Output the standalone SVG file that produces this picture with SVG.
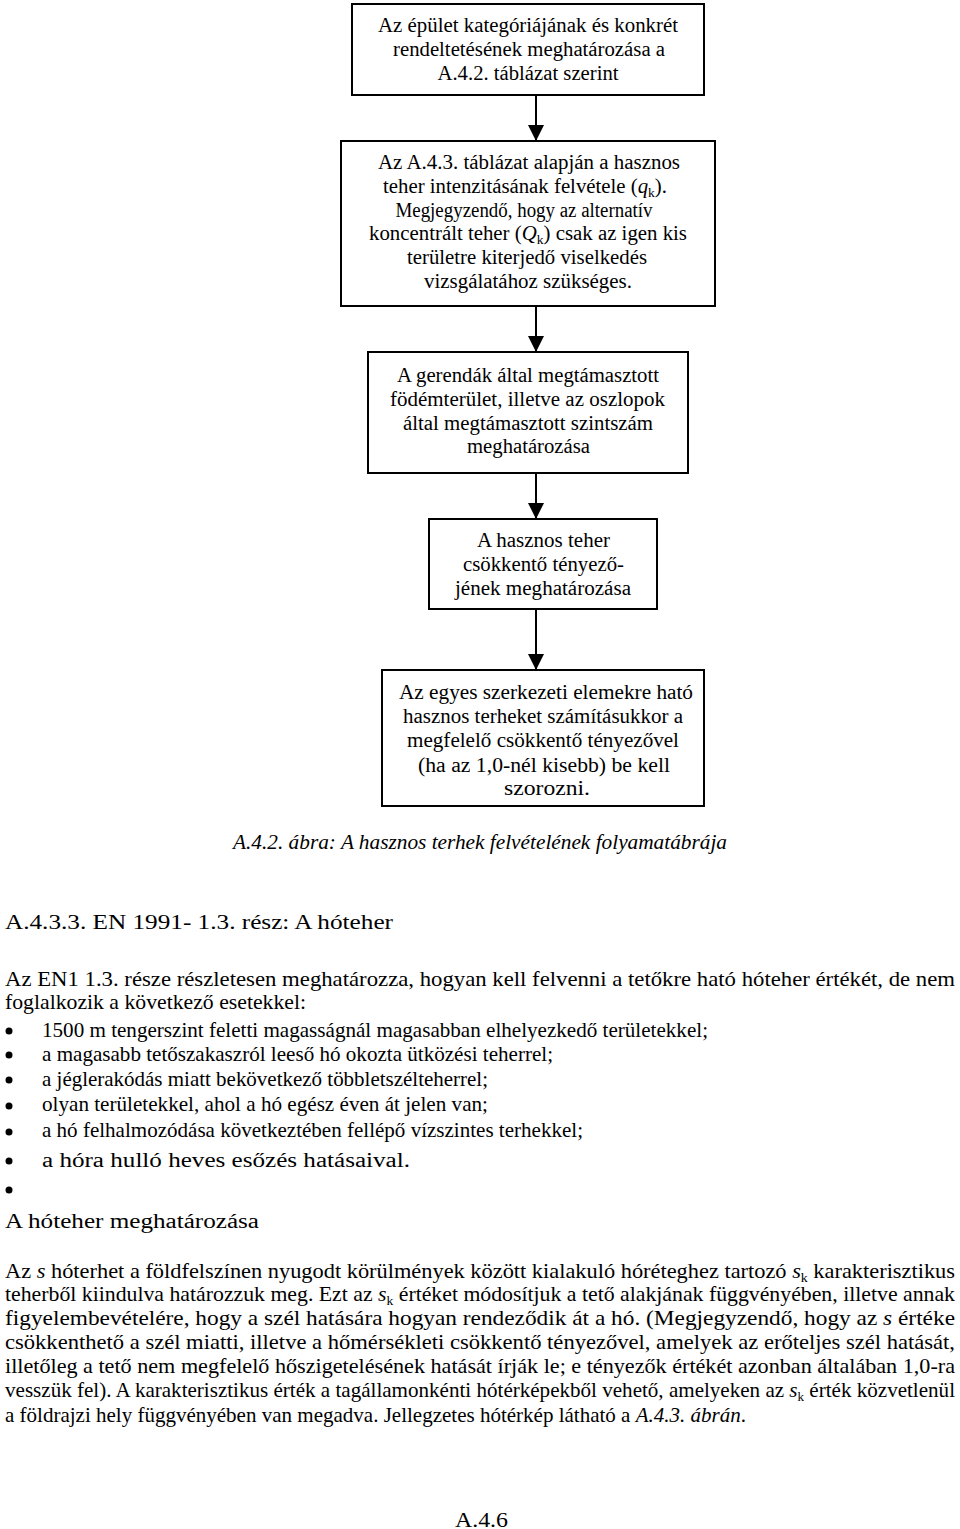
<svg xmlns="http://www.w3.org/2000/svg" width="960" height="1529" viewBox="0 0 960 1529">
<style>
.bx{fill:#fff;stroke:#000;stroke-width:2}
.t{font-family:"Liberation Serif","Times New Roman",serif;font-size:20px;fill:#000}
.p{font-size:21px}
.c{text-anchor:middle}
.i{font-style:italic}
.cn{stroke:#000;stroke-width:2;fill:none}
.b{fill:#000}
</style>
<defs>
<marker id="ah" markerUnits="userSpaceOnUse" markerWidth="16" markerHeight="16" refX="16" refY="8" orient="auto">
<path d="M0,0 L16,8 L0,16 z" fill="#000"/>
</marker>
</defs>
<rect width="960" height="1529" fill="#fff"/>

<g id="connectors">
<line class="cn" x1="536" y1="95" x2="536" y2="141" marker-end="url(#ah)"/>
<line class="cn" x1="536" y1="306" x2="536" y2="352" marker-end="url(#ah)"/>
<line class="cn" x1="536" y1="473" x2="536" y2="519" marker-end="url(#ah)"/>
<line class="cn" x1="536" y1="609" x2="536" y2="670" marker-end="url(#ah)"/>
</g>

<g id="n1">
<rect class="bx" x="352" y="4" width="352" height="91"/>
<text class="t c" x="528" y="32" textLength="300" lengthAdjust="spacingAndGlyphs">Az épület kategóriájának és konkrét</text>
<text class="t c" x="529" y="56" textLength="272" lengthAdjust="spacingAndGlyphs">rendeltetésének meghatározása a</text>
<text class="t c" x="528" y="80" textLength="181" lengthAdjust="spacingAndGlyphs">A.4.2. táblázat szerint</text>
</g>

<g id="n2">
<rect class="bx" x="341" y="141" width="374" height="165"/>
<text class="t c" x="529" y="169" textLength="302" lengthAdjust="spacingAndGlyphs">Az A.4.3. táblázat alapján a hasznos</text>
<text class="t c" x="525" y="193" textLength="284" lengthAdjust="spacingAndGlyphs">teher intenzitásának felvétele (<tspan class="i">q</tspan><tspan font-size="13" dy="4">k</tspan><tspan dy="-4">).</tspan></text>
<text class="t c" x="524" y="217" textLength="257" lengthAdjust="spacingAndGlyphs">Megjegyzendő, hogy az alternatív</text>
<text class="t c" x="528" y="240" textLength="318" lengthAdjust="spacingAndGlyphs">koncentrált teher (<tspan class="i">Q</tspan><tspan font-size="13" dy="4">k</tspan><tspan dy="-4">) csak az igen kis</tspan></text>
<text class="t c" x="527" y="264" textLength="240" lengthAdjust="spacingAndGlyphs">területre kiterjedő viselkedés</text>
<text class="t c" x="528" y="288" textLength="208" lengthAdjust="spacingAndGlyphs">vizsgálatához szükséges.</text>
</g>

<g id="n3">
<rect class="bx" x="368" y="352" width="320" height="121"/>
<text class="t c" x="528" y="382" textLength="262" lengthAdjust="spacingAndGlyphs">A gerendák által megtámasztott</text>
<text class="t c" x="527.5" y="406" textLength="275" lengthAdjust="spacingAndGlyphs">födémterület, illetve az oszlopok</text>
<text class="t c" x="528" y="430" textLength="250" lengthAdjust="spacingAndGlyphs">által megtámasztott szintszám</text>
<text class="t c" x="528.5" y="453" textLength="123" lengthAdjust="spacingAndGlyphs">meghatározása</text>
</g>

<g id="n4">
<rect class="bx" x="429" y="519" width="228" height="90"/>
<text class="t c" x="543.5" y="547" textLength="133" lengthAdjust="spacingAndGlyphs">A hasznos teher</text>
<text class="t c" x="543.5" y="571" textLength="161" lengthAdjust="spacingAndGlyphs">csökkentő tényező-</text>
<text class="t c" x="543" y="595" textLength="176" lengthAdjust="spacingAndGlyphs">jének meghatározása</text>
</g>

<g id="n5">
<rect class="bx" x="382" y="670" width="322" height="136"/>
<text class="t c" x="546" y="699" textLength="294" lengthAdjust="spacingAndGlyphs">Az egyes szerkezeti elemekre ható</text>
<text class="t c" x="543" y="723" textLength="280" lengthAdjust="spacingAndGlyphs">hasznos terheket számításukkor a</text>
<text class="t c" x="543" y="747" textLength="272" lengthAdjust="spacingAndGlyphs">megfelelő csökkentő tényezővel</text>
<text class="t c" x="544" y="772" textLength="252" lengthAdjust="spacingAndGlyphs">(ha az 1,0-nél kisebb) be kell</text>
<text class="t c" x="547" y="795" textLength="86" lengthAdjust="spacingAndGlyphs">szorozni.</text>
</g>

<g id="caption">
<text class="t i" x="233" y="849" font-size="21" textLength="494" lengthAdjust="spacingAndGlyphs">A.4.2. ábra: A hasznos terhek felvételének folyamatábrája</text>
</g>

<g id="body">
<text class="t" x="5" y="929" font-size="26" textLength="388" lengthAdjust="spacingAndGlyphs">A.4.3.3. EN 1991- 1.3. rész: A hóteher</text>

<text class="t p" x="5" y="986" textLength="950" lengthAdjust="spacingAndGlyphs">Az EN1 1.3. része részletesen meghatározza, hogyan kell felvenni a tetőkre ható hóteher értékét, de nem</text>
<text class="t p" x="5" y="1009" textLength="301" lengthAdjust="spacingAndGlyphs">foglalkozik a következő esetekkel:</text>

<circle class="b" cx="9" cy="1031" r="3.5"/>
<circle class="b" cx="9" cy="1055" r="3.5"/>
<circle class="b" cx="9" cy="1080" r="3.5"/>
<circle class="b" cx="9" cy="1106" r="3.5"/>
<circle class="b" cx="9" cy="1132" r="3.5"/>
<circle class="b" cx="9" cy="1161" r="3.5"/>
<circle class="b" cx="9" cy="1190" r="3.5"/>

<text class="t p" x="42" y="1037" textLength="666" lengthAdjust="spacingAndGlyphs">1500 m tengerszint feletti magasságnál magasabban elhelyezkedő területekkel;</text>
<text class="t p" x="42" y="1061" textLength="511" lengthAdjust="spacingAndGlyphs">a magasabb tetőszakaszról leeső hó okozta ütközési teherrel;</text>
<text class="t p" x="42" y="1086" textLength="446" lengthAdjust="spacingAndGlyphs">a jéglerakódás miatt bekövetkező többletszélteherrel;</text>
<text class="t p" x="42" y="1111" textLength="446" lengthAdjust="spacingAndGlyphs">olyan területekkel, ahol a hó egész éven át jelen van;</text>
<text class="t p" x="42" y="1137" textLength="541" lengthAdjust="spacingAndGlyphs">a hó felhalmozódása következtében fellépő vízszintes terhekkel;</text>
<text class="t" x="42" y="1167" font-size="23" textLength="368" lengthAdjust="spacingAndGlyphs">a hóra hulló heves esőzés hatásaival.</text>

<text class="t" x="5" y="1228" font-size="25" textLength="254" lengthAdjust="spacingAndGlyphs">A hóteher meghatározása</text>

<text class="t p" x="5" y="1278" textLength="950" lengthAdjust="spacingAndGlyphs">Az <tspan class="i">s</tspan> hóterhet a földfelszínen nyugodt körülmények között kialakuló hóréteghez tartozó <tspan class="i">s</tspan><tspan font-size="13" dy="4">k</tspan><tspan dy="-4"> karakterisztikus</tspan></text>
<text class="t p" x="5" y="1301" textLength="950" lengthAdjust="spacingAndGlyphs">teherből kiindulva határozzuk meg. Ezt az <tspan class="i">s</tspan><tspan font-size="13" dy="4">k</tspan><tspan dy="-4"> értéket módosítjuk a tető alakjának függvényében, illetve annak</tspan></text>
<text class="t p" x="5" y="1325" textLength="950" lengthAdjust="spacingAndGlyphs">figyelembevételére, hogy a szél hatására hogyan rendeződik át a hó. (Megjegyzendő, hogy az <tspan class="i">s</tspan> értéke</text>
<text class="t p" x="5" y="1349" textLength="950" lengthAdjust="spacingAndGlyphs">csökkenthető a szél miatti, illetve a hőmérsékleti csökkentő tényezővel, amelyek az erőteljes szél hatását,</text>
<text class="t p" x="5" y="1373" textLength="950" lengthAdjust="spacingAndGlyphs">illetőleg a tető nem megfelelő hőszigetelésének hatását írják le; e tényezők értékét azonban általában 1,0-ra</text>
<text class="t p" x="5" y="1397" textLength="950" lengthAdjust="spacingAndGlyphs">vesszük fel). A karakterisztikus érték a tagállamonkénti hótérképekből vehető, amelyeken az <tspan class="i">s</tspan><tspan font-size="13" dy="4">k</tspan><tspan dy="-4"> érték közvetlenül</tspan></text>
<text class="t p" x="5" y="1422" textLength="741" lengthAdjust="spacingAndGlyphs">a földrajzi hely függvényében van megadva. Jellegzetes hótérkép látható a <tspan class="i">A.4.3. ábrán</tspan>.</text>

<text class="t" x="455" y="1527" font-size="23" textLength="53" lengthAdjust="spacingAndGlyphs">A.4.6</text>
</g>
</svg>
